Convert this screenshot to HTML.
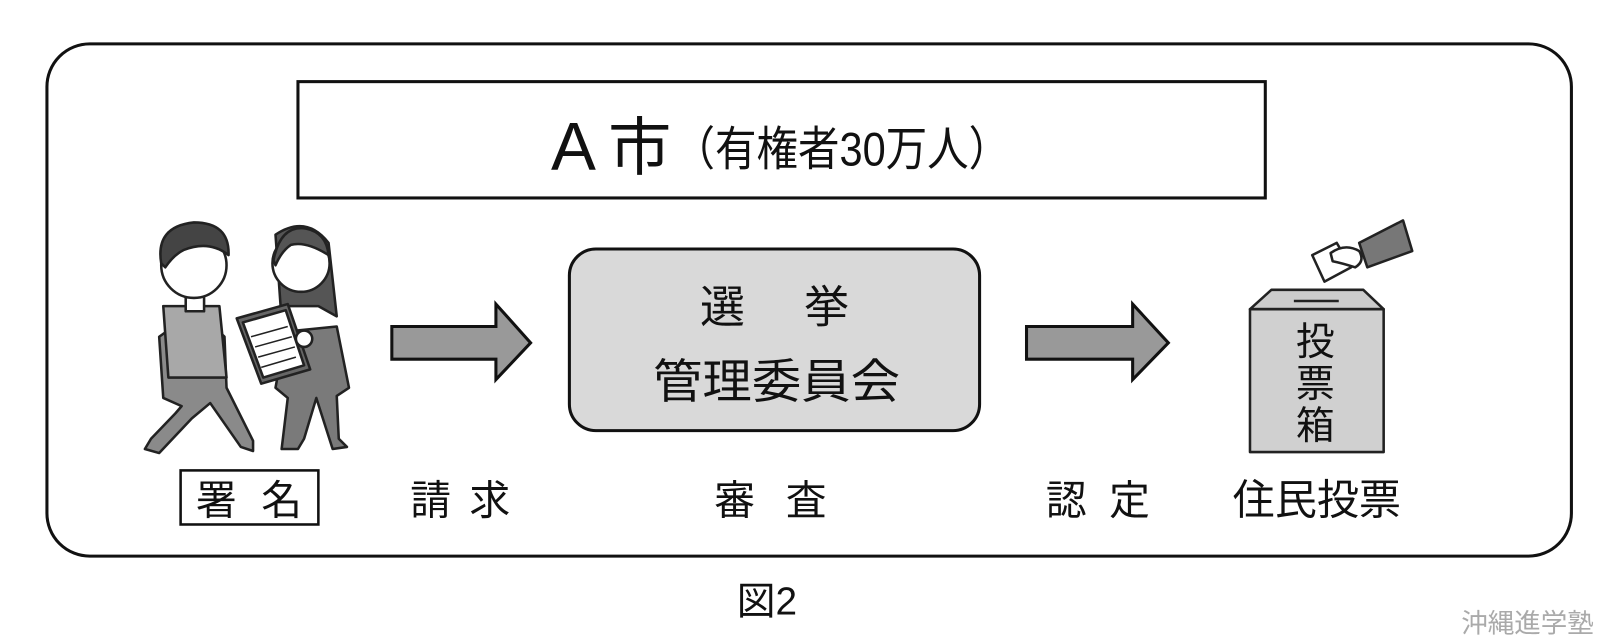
<!DOCTYPE html>
<html><head><meta charset="utf-8"><style>
html,body{margin:0;padding:0;background:#fff;}
svg{display:block}
text{font-family:"Liberation Sans","Noto Sans CJK JP",sans-serif;fill:#111;}
</style></head><body>
<svg width="1600" height="642" viewBox="0 0 1600 642" xmlns="http://www.w3.org/2000/svg">
<g transform="scale(1.0204)">
<rect x="46" y="43" width="1494" height="502" rx="42" fill="#fff" stroke="#111" stroke-width="3"/>
<rect x="292" y="80" width="948" height="114" fill="#fff" stroke="#111" stroke-width="3"/>
<text x="540" y="166" font-size="66" font-family="Liberation Sans,sans-serif">A</text>
<text x="596" y="166" font-size="62" font-family="Noto Sans CJK JP,sans-serif">市</text>
<text x="660" y="162" font-size="46" font-family="Noto Sans CJK JP,sans-serif" textLength="330" lengthAdjust="spacingAndGlyphs">（有権者30万人）</text>

<polygon points="384,320 486,320 486,298 520,336 486,372 486,352 384,352" fill="#999" stroke="#111" stroke-width="3"/>
<polygon points="1006,320 1110,320 1110,298 1145,336 1110,372 1110,352 1006,352" fill="#999" stroke="#111" stroke-width="3"/>

<rect x="558" y="244" width="402" height="178" rx="26" fill="#d9d9d9" stroke="#111" stroke-width="3"/>
<text x="686" y="316" font-size="44" font-family="Noto Sans CJK JP,sans-serif">選</text>
<text x="788" y="316" font-size="44" font-family="Noto Sans CJK JP,sans-serif">挙</text>
<text x="640" y="390" font-size="46" font-family="Noto Sans CJK JP,sans-serif" textLength="242" lengthAdjust="spacingAndGlyphs">管理委員会</text>

<g stroke="#222" stroke-width="2.5" stroke-linejoin="round">
 <path d="M170,320 L156,330 L160,390 L178,398 L172,405 L148,430 L142,440 L156,444 L188,410 L206,395 L236,438 L248,442 L248,432 L222,380 L220,330 L204,315 L185,312 Z" fill="#8a8a8a"/>
 <path d="M160,300 L215,300 L222,370 L165,370 Z" fill="#a8a8a8"/>
 <path d="M182,290 L200,290 L200,305 L182,305Z" fill="#fff"/>
 <circle cx="190" cy="260" r="32" fill="#fff"/>
 <path d="M158,258 Q152,222 190,218 Q225,218 224,250 Q205,235 180,245 Q170,250 162,262Z" fill="#444"/>
 <path d="M280,325 L330,320 L342,380 L330,388 L332,430 L340,438 L326,440 L310,390 L298,430 L292,440 L276,440 L282,390 L270,380Z" fill="#7a7a7a"/>
 <path d="M270,230 Q300,210 322,238 L330,310 L312,300 L275,300Z" fill="#555"/>
 <circle cx="295" cy="258" r="28" fill="#fff"/>
 <path d="M268,255 Q275,220 300,224 Q320,228 322,250 Q300,236 285,240 Q276,246 270,260Z" fill="#555"/>
 <polygon points="232,312 282,298 304,362 256,376" fill="#666"/>
 <polygon points="238,316 280,304 298,358 258,370" fill="#fff"/>
 <path d="M246,330 L282,320 M250,340 L286,330 M253,350 L289,340 M256,360 L290,350" stroke-width="1.5"/>
 <circle cx="298" cy="332" r="8" fill="#fff"/>
</g>

<g stroke="#222" stroke-width="2.5" stroke-linejoin="round">
 <polygon points="1286,250 1310,238 1324,262 1298,276" fill="#fff"/>
 <path d="M1304,248 Q1318,238 1332,246 Q1338,256 1328,262 Q1316,258 1306,256Z" fill="#fff"/>
 <polygon points="1332,238 1375,216 1384,246 1340,262" fill="#777"/>
 <polygon points="1225,303 1246,284 1336,284 1356,303" fill="#ccc"/>
 <line x1="1268" y1="295" x2="1312" y2="295"/>
 <rect x="1225" y="303" width="131" height="140" fill="#d0d0d0"/>
</g>
<text x="1270" y="348" font-size="38" font-family="Noto Sans CJK JP,sans-serif">投</text>
<text x="1270" y="389" font-size="38" font-family="Noto Sans CJK JP,sans-serif">票</text>
<text x="1270" y="430" font-size="38" font-family="Noto Sans CJK JP,sans-serif">箱</text>

<rect x="177" y="461" width="135" height="53" fill="#fff" stroke="#111" stroke-width="2.5"/>
<text x="192" y="504" font-size="40" font-family="Noto Sans CJK JP,sans-serif">署</text>
<text x="256" y="504" font-size="40" font-family="Noto Sans CJK JP,sans-serif">名</text>
<text x="402" y="504" font-size="40" font-family="Noto Sans CJK JP,sans-serif">請</text>
<text x="460" y="504" font-size="40" font-family="Noto Sans CJK JP,sans-serif">求</text>
<text x="700" y="504" font-size="40" font-family="Noto Sans CJK JP,sans-serif">審</text>
<text x="770" y="504" font-size="40" font-family="Noto Sans CJK JP,sans-serif">査</text>
<text x="1025" y="504" font-size="40" font-family="Noto Sans CJK JP,sans-serif">認</text>
<text x="1087" y="504" font-size="40" font-family="Noto Sans CJK JP,sans-serif">定</text>
<text x="1208" y="504" font-size="41" font-family="Noto Sans CJK JP,sans-serif" textLength="165" lengthAdjust="spacingAndGlyphs">住民投票</text>
<text x="722" y="602" font-size="38" font-family="Noto Sans CJK JP,sans-serif">図2</text>
<text x="1432" y="620" font-size="26" style="fill:#aaa" font-family="Noto Serif CJK SC,serif">沖縄進学塾</text>
</g>
</svg>
</body></html>
